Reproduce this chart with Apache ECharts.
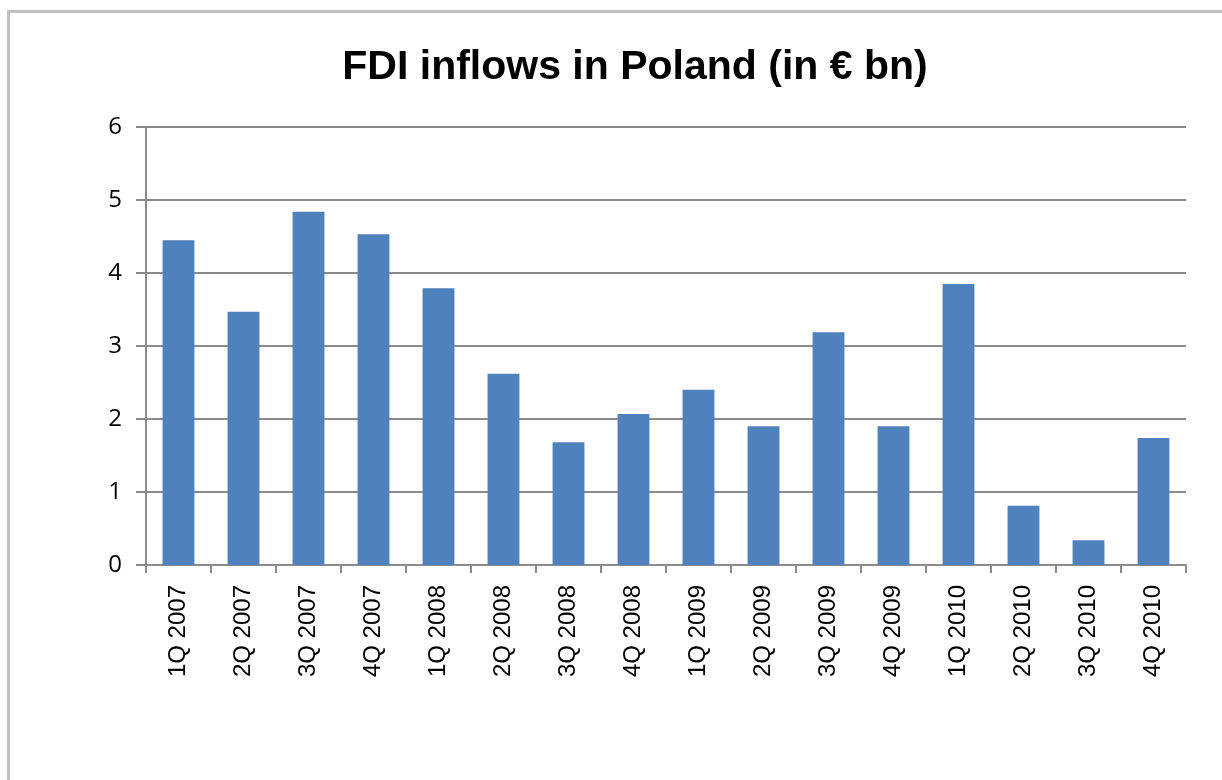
<!DOCTYPE html>
<html>
<head>
<meta charset="utf-8">
<script src="https://cdn.jsdelivr.net/npm/echarts@6/dist/echarts.min.js"></script>
<style>
    html, body { margin: 0; padding: 0; background: #fff; }
    #wrap { position: relative; width: 1222px; height: 780px; overflow: hidden; }
    #frame {
        position: absolute; left: 7px; top: 10px; width: 1240px; height: 800px;
        border-left: 3px solid #c0c0c0; border-top: 3px solid #c0c0c0;
    }
    #chart { position: absolute; left: 0; top: 0; width: 1222px; height: 780px; }
</style>
</head>
<body>
<div id="wrap">
    <div id="frame"></div>
    <div id="chart"></div>
</div>
<script>
// quarters and FDI inflows (EUR bn)
const quarters = ['1Q 2007', '2Q 2007', '3Q 2007', '4Q 2007',
    '1Q 2008', '2Q 2008', '3Q 2008', '4Q 2008',
    '1Q 2009', '2Q 2009', '3Q 2009', '4Q 2009',
    '1Q 2010', '2Q 2010', '3Q 2010', '4Q 2010'];
const inflows = [4.45, 3.47, 4.84, 4.53, 3.79, 2.62, 1.68, 2.07,
    2.40, 1.90, 3.19, 1.90, 3.85, 0.81, 0.34, 1.74];

let chartDom = document.getElementById('chart');
let myChart = echarts.init(chartDom);
let option = {
    animation: false,
    title: {
        text: 'FDI inflows in Poland (in € bn)',
        left: 630,
        top: 42,
        textAlign: 'center',
        textStyle: {
            fontFamily: 'Liberation Sans',
            fontWeight: 'bold',
            fontSize: 41,
            color: '#000'
        }
    },
    grid: {
        left: 146,
        top: 127,
        width: 1040,
        height: 438
    },
    xAxis: {
        type: 'category',
        data: quarters,
        axisLine: { lineStyle: { color: '#8c8c8c', width: 2 } },
        axisTick: { show: true, length: 8, lineStyle: { color: '#8c8c8c', width: 2 } },
        axisLabel: {
            rotate: 90,
            margin: 20,
            color: '#000',
            fontFamily: 'Liberation Sans',
            fontSize: 24
        }
    },
    yAxis: {
        type: 'value',
        min: 0,
        max: 6,
        interval: 1,
        axisLine: { show: true, lineStyle: { color: '#8c8c8c', width: 2 } },
        axisTick: { show: true, length: 10, lineStyle: { color: '#8c8c8c', width: 2 } },
        splitLine: { lineStyle: { color: '#8c8c8c', width: 2 } },
        axisLabel: {
            margin: 24,
            color: '#000',
            fontFamily: 'Open Sans',
            fontSize: 24
        }
    },
    series: [
        {
            name: 'FDI',
            type: 'bar',
            data: inflows,
            barWidth: '49%',
            itemStyle: { color: '#4f81bd' }
        }
    ]
};
option && myChart.setOption(option);
</script>
</body>
</html>
